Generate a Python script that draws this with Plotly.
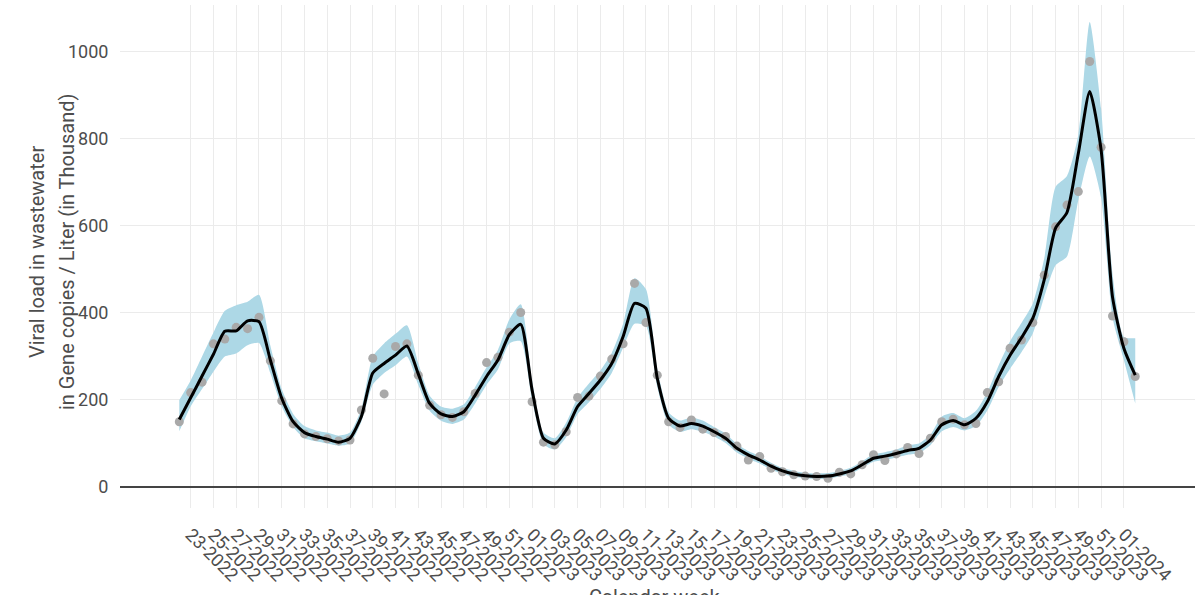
import plotly.graph_objects as go

# Calendar weeks 22-2022 .. 02-2024
weeks = ([f"{w:02d}-2022" for w in range(22, 53)]
         + [f"{w:02d}-2023" for w in range(1, 53)]
         + [f"{w:02d}-2024" for w in range(1, 3)])

# Observed weekly viral load (thousand gene copies / L)
observed = [150, 217, 241, 329, 340, 367, 364, 390, 290, 198, 145, 122, 116, 111, 106, 108,
            177, 296, 214, 323, 329, 257, 188, 166, 160, 173, 215, 286, 298, 356, 401, 196,
            103, 97, 127, 206, 209, 255, 294, 329, 468, 378, 257, 150, 137, 154, 133, 125,
            116, 94, 62, 70, 43, 35, 28, 25, 24, 20, 34, 30, 51, 74, 61, 76, 91, 77, 112,
            150, 156, 143, 146, 217, 242, 319, 338, 378, 487, 598, 648, 679, 978, 781, 393,
            334, 254]

# Smoothed trend
smoothed = [155, 205, 255, 305, 358, 359, 382, 380, 292, 204, 150, 125, 116, 110, 103, 112,
            162, 262, 284, 303, 324, 260, 192, 168, 162, 173, 211, 254, 292, 350, 374, 223,
            112, 99, 131, 185, 215, 246, 284, 346, 422, 411, 250, 158, 140, 146, 140, 127,
            112, 89, 74, 62, 48, 37, 30, 26, 24, 25, 30, 37, 51, 66, 71, 77, 84, 89, 108,
            143, 153, 143, 158, 196, 254, 303, 343, 388, 476, 595, 631, 767, 909, 775, 437,
            319, 257]

# Confidence band
upper = [200, 245, 300, 355, 405, 418, 426, 442, 325, 225, 168, 140, 130, 125, 118, 125,
         180, 300, 330, 352, 372, 285, 210, 185, 180, 190, 230, 275, 315, 385, 420, 245,
         125, 112, 148, 205, 238, 268, 308, 375, 480, 455, 272, 172, 153, 160, 153, 138,
         123, 99, 83, 71, 56, 44, 37, 33, 31, 32, 37, 44, 59, 75, 80, 86, 96, 100, 120,
         162, 170, 158, 175, 218, 280, 335, 377, 422, 525, 690, 715, 810, 1069, 870, 490,
         345, 342]
lower = [128, 185, 225, 265, 300, 307, 326, 331, 262, 185, 138, 112, 105, 100, 95, 100,
         150, 235, 262, 280, 300, 235, 175, 152, 145, 155, 192, 235, 270, 330, 335, 200,
         98, 86, 115, 168, 195, 225, 262, 320, 375, 370, 230, 143, 127, 133, 127, 116,
         101, 79, 65, 54, 40, 30, 24, 20, 18, 19, 24, 30, 44, 58, 62, 68, 74, 78, 96,
         128, 138, 130, 140, 176, 230, 272, 310, 353, 437, 510, 530, 660, 760, 665, 390,
         292, 192]

tick_weeks = weeks[1::2]
y_ticks = [0, 200, 400, 600, 800, 1000]
x_title = "Calendar week"
y_title_lines = ["Viral load in wastewater", "in Gene copies / Liter (in Thousand)"]

fig = go.Figure()
fig.add_trace(go.Scatter(x=weeks, y=lower, mode="lines", line=dict(width=0, shape="spline", smoothing=0.6),
                         hoverinfo="skip", showlegend=False))
fig.add_trace(go.Scatter(x=weeks, y=upper, mode="lines", line=dict(width=0, shape="spline", smoothing=0.6),
                         fill="tonexty", fillcolor="#ADD8E6", hoverinfo="skip", showlegend=False))
fig.add_trace(go.Scatter(x=weeks, y=observed, mode="markers",
                         marker=dict(color="#A9A9A9", size=9), showlegend=False))
fig.add_trace(go.Scatter(x=weeks, y=smoothed, mode="lines",
                         line=dict(color="black", width=3, shape="spline", smoothing=0.6), showlegend=False))

fig.update_layout(
    width=1200, height=595,
    margin=dict(l=120, r=5, t=5, b=87),
    plot_bgcolor="white", paper_bgcolor="white",
    font=dict(family="Roboto", size=18, color="#4d4d4d"),
    showlegend=False,
)
fig.update_xaxes(
    type="category", categoryorder="array", categoryarray=weeks,
    tickmode="array", tickvals=tick_weeks, ticktext=tick_weeks,
    tickangle=45, range=[-5.21, 89.25],
    ticks="outside", ticklen=8, tickcolor="rgba(0,0,0,0)",
    showgrid=True, gridcolor="#ebebeb", gridwidth=1,
    zeroline=False, showline=False,
    automargin=False,
)
fig.update_yaxes(
    range=[-48.3, 1108], tickmode="array", tickvals=y_ticks,
    ticks="outside", ticklen=7, tickcolor="rgba(0,0,0,0)",
    showgrid=True, gridcolor="#ebebeb", gridwidth=1,
    zeroline=True, zerolinecolor="#444444", zerolinewidth=2,
    showline=False, automargin=False,
)
# x-axis title
fig.add_annotation(text=x_title, showarrow=False, xref="paper", yref="paper",
                   x=(655 - 120) / 1075, y=(508 - 583) / 503,
                   xanchor="center", yanchor="top",
                   font=dict(size=20, color="#4d4d4d"))
# two-line y-axis title (placed as rotated text lines)
for line_text, px in zip(y_title_lines, [37, 67]):
    fig.add_annotation(text=line_text, textangle=-90, showarrow=False,
                       xref="paper", yref="paper",
                       x=(px - 120) / 1075, y=(508 - 252) / 503,
                       xanchor="center", yanchor="middle",
                       font=dict(size=20, color="#4d4d4d"))

fig.write_html("out.html", config={"displayModeBar": False},
               post_script="document.body.style.margin='0px';")
